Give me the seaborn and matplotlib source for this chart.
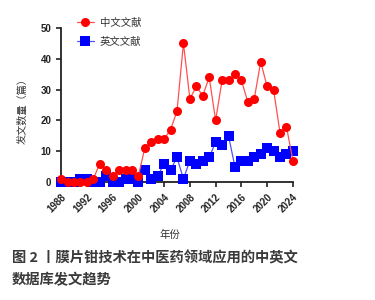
import pandas as pd
import numpy as np
import matplotlib
matplotlib.use("Agg")
import matplotlib.pyplot as plt
import seaborn as sns

# ----------------------------
# Data
# ----------------------------
years = list(range(1988, 2025))
cn_counts = [1, 0, 0, 0, 0, 1, 6, 4, 2, 4, 4, 4, 2, 11, 13, 14, 14, 17, 23, 45,
             27, 31, 28, 34, 20, 33, 33, 35, 33, 26, 27, 39, 31, 30, 16, 18, 7]
en_counts = [0, 0, 0, 1, 1, 0, 0, 2, 0, 0, 1, 1, 0, 4, 1, 2, 6, 4, 8, 1,
             7, 6, 7, 8, 13, 12, 15, 5, 7, 7, 8, 9, 11, 10, 8, 9, 10]
series_names = ["中文文献", "英文文献"]
x_ticks = list(range(1988, 2025, 4))
y_ticks = [0, 10, 20, 30, 40, 50]

df = pd.DataFrame({
    "year": years * 2,
    "count": cn_counts + en_counts,
    "source": [series_names[0]] * len(years) + [series_names[1]] * len(years),
})

sns.set_style("ticks")
plt.rcParams["font.family"] = ["Noto Sans CJK SC", "DejaVu Sans"]

fig = plt.figure(figsize=(3.75, 3.0), dpi=100)
ax = fig.add_axes([0.163, 0.393, 0.618, 0.514])

palette = {series_names[0]: "#ff0000", series_names[1]: "#0000ff"}
line_colors = {series_names[0]: "#ff5050", series_names[1]: "#5050ff"}
markers = {series_names[0]: "o", series_names[1]: "s"}

sns.lineplot(data=df, x="year", y="count", hue="source", style="source",
             palette=palette, markers=markers, dashes=False, ax=ax,
             linewidth=0.9, markersize=6.5, markeredgewidth=0, clip_on=False)

# solid markers, lighter connecting lines, red series on top
lines = ax.get_lines()
for line, name, z in zip(lines[:2], series_names, [4, 3]):
    line.set_markerfacecolor(palette[name])
    line.set_markeredgecolor(palette[name])
    line.set_color(line_colors[name])
    line.set_clip_on(False)
    line.set_zorder(z)

ax.set_xlim(1988, 2024)
ax.set_ylim(0, 50)
ax.set_xticks(x_ticks)
ax.set_yticks(y_ticks)
sns.despine(ax=ax)
for s in ["left", "bottom"]:
    ax.spines[s].set_linewidth(1.3)
    ax.spines[s].set_color("#222222")
ax.tick_params(axis="both", length=3.5, width=1.2, color="#222222")

ax.set_xticklabels([str(t) for t in x_ticks], rotation=45, ha="right",
                   rotation_mode="anchor", fontsize=7, fontweight="bold",
                   family="Liberation Sans", color="#222222")
ax.set_yticklabels([str(t) for t in y_ticks], fontsize=7, fontweight="bold",
                   family="Liberation Sans", color="#222222")

ax.set_xlabel("年份", fontsize=7.5, color="#333333")
ax.set_ylabel("发文数量（篇）", fontsize=7.3, color="#333333")
ax.xaxis.set_label_coords(0.47, -0.31)
ax.yaxis.set_label_coords(-0.145, 0.48)

leg = ax.legend(loc="upper left", bbox_to_anchor=(0.05, 1.095), frameon=False,
                fontsize=7.5, handlelength=1.6, handletextpad=0.6,
                labelspacing=0.9, borderaxespad=0)
for t in leg.get_texts():
    t.set_color("#333333")
for h, name in zip(leg.legend_handles, series_names):
    h.set_color(line_colors[name])
    h.set_markerfacecolor(palette[name])
    h.set_markeredgecolor(palette[name])

fig.text(0.032, 0.14, "图 2 丨膜片钳技术在中医药领域应用的中英文", fontsize=10.3,
         fontweight="bold", color="#3a3a3a", va="center")
fig.text(0.032, 0.067, "数据库发文趋势", fontsize=10.3,
         fontweight="bold", color="#3a3a3a", va="center")

fig.savefig("out.png", dpi=100)
